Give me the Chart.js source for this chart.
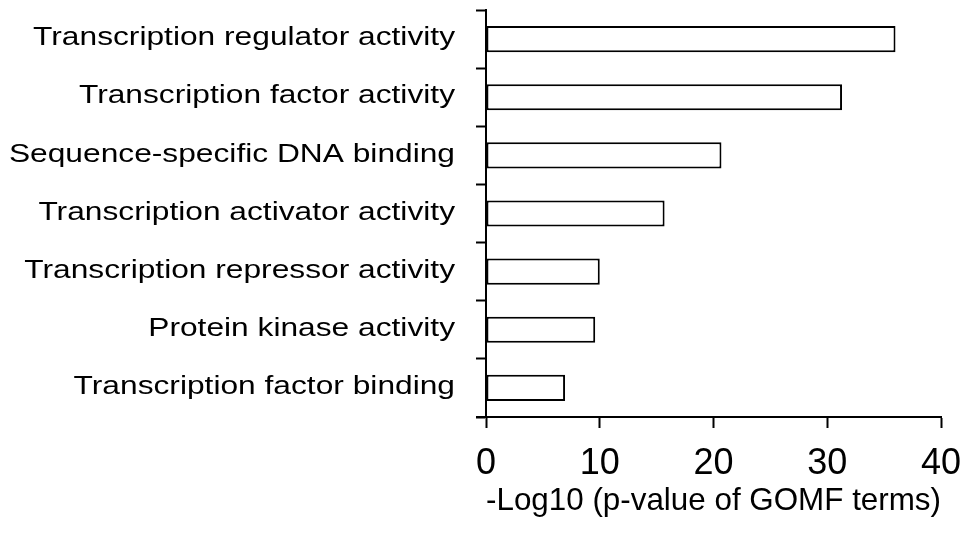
<!DOCTYPE html>
<html>
<head>
<meta charset="utf-8">
<script src="https://cdn.jsdelivr.net/npm/chart.js@4.4.1/dist/chart.umd.min.js"></script>
<style>
  html, body { margin: 0; padding: 0; background: #fff; }
  #wrap { width: 971px; height: 540px; }
</style>
</head>
<body>
<div id="wrap"><canvas id="goChart" width="971" height="540"></canvas></div>
<script>
const categories = [
  'Transcription regulator activity',
  'Transcription factor activity',
  'Sequence-specific DNA binding',
  'Transcription activator activity',
  'Transcription repressor activity',
  'Protein kinase activity',
  'Transcription factor binding'
];
const logP = [36.0, 31.3, 20.7, 15.7, 10.0, 9.6, 6.95];
const xTicks = [0, 10, 20, 30, 40];
const xTitle = '-Log10 (p-value of GOMF terms)';

const FONT = "'Liberation Sans', Arial, sans-serif";

// y labels are drawn a bit wider than tall, like the original figure
const labelPlugin = {
  id: 'labels',
  afterDraw(chart) {
    const ctx = chart.ctx;
    const y = chart.scales.y;
    const area = chart.chartArea;
    ctx.save();
    ctx.fillStyle = '#000';
    ctx.font = '26px ' + FONT;
    ctx.textAlign = 'right';
    ctx.textBaseline = 'middle';
    categories.forEach((c, i) => {
      ctx.save();
      ctx.translate(area.left - 31, y.getPixelForTick(i) - 1);
      ctx.scale(1.22, 1);
      ctx.fillText(c, 0, 0);
      ctx.restore();
    });
    // x axis line runs out to the y tick length
    ctx.strokeStyle = '#000';
    ctx.lineWidth = 2;
    ctx.beginPath();
    ctx.moveTo(area.left - 10, area.bottom);
    ctx.lineTo(area.left, area.bottom);
    ctx.stroke();
    ctx.restore();
  }
};

new Chart(document.getElementById('goChart').getContext('2d'), {
  type: 'bar',
  data: {
    labels: categories,
    datasets: [{
      data: logP,
      backgroundColor: '#fff',
      borderColor: '#000',
      borderWidth: 2,
      borderSkipped: false,
      barPercentage: 0.45,
      categoryPercentage: 1
    }]
  },
  options: {
    indexAxis: 'y',
    responsive: false,
    animation: false,
    layout: { padding: { top: 10, right: 30, left: 0, bottom: 0 } },
    plugins: { legend: { display: false }, tooltip: { enabled: false } },
    scales: {
      x: {
        min: 0,
        max: 40,
        afterBuildTicks: (s) => { s.ticks = xTicks.map(v => ({ value: v })); },
        afterFit: (s) => { s.height = 123; s.paddingRight = 0; s.paddingLeft = 0; },
        border: { color: '#000', width: 2 },
        grid: { drawOnChartArea: false, tickLength: 11, tickWidth: 2, tickColor: '#000' },
        ticks: { color: '#000', padding: 14, font: { family: FONT, size: 36 } },
        title: {
          display: true,
          text: xTitle,
          color: '#000',
          font: { family: FONT, size: 31.6 },
          padding: { top: 0, bottom: 20 }
        }
      },
      y: {
        afterFit: (s) => { s.width = 486; },
        border: { color: '#000', width: 2 },
        grid: { offset: true, drawOnChartArea: false, tickLength: 10, tickWidth: 2, tickColor: '#000' },
        ticks: { color: 'rgba(0,0,0,0)', padding: 0, font: { family: FONT, size: 1 } }
      }
    }
  },
  plugins: [labelPlugin]
});
</script>
</body>
</html>
